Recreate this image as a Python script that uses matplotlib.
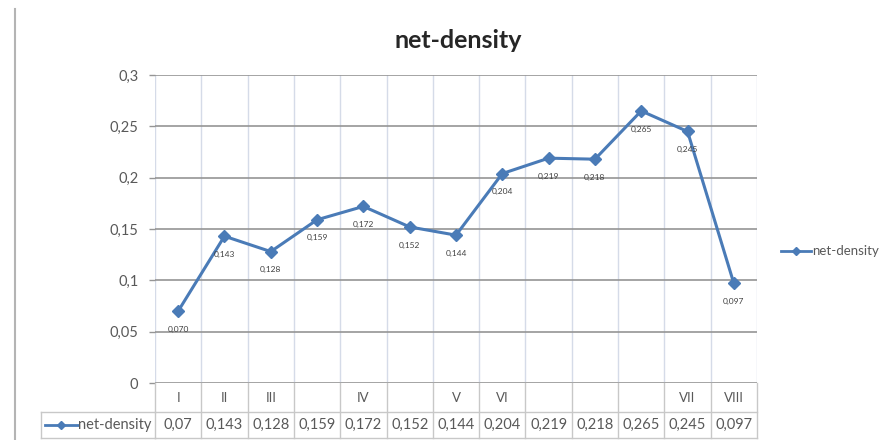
import matplotlib
matplotlib.use("Agg")
import matplotlib.pyplot as plt
from matplotlib.lines import Line2D

plt.rcParams['font.family'] = ['Lato', 'DejaVu Sans']

title = "net-density"
series_name = "net-density"
categories = ["I", "II", "III", "", "IV", "", "V", "VI", "", "", "", "VII", "VIII"]
values = [0.07, 0.143, 0.128, 0.159, 0.172, 0.152, 0.144, 0.204, 0.219, 0.218, 0.265, 0.245, 0.097]
yticks = [0, 0.05, 0.1, 0.15, 0.2, 0.25, 0.3]

LINE_C = "#4A7BB7"
TXT_C = "#595959"
GRID_H = "#959595"
GRID_V = "#d5dbe8"
TABLE_C = "#c8c8c8"

def fmt(v):
    return ("%g" % v).replace(".", ",")

W, H = 884, 440
fig = plt.figure(figsize=(W / 100, H / 100), dpi=100)
L, R, T, B = 155, 757, 75, 383
ax = fig.add_axes([L / W, 1 - B / H, (R - L) / W, (B - T) / H])

n = len(values)
xs = list(range(n))
ax.plot(xs, values, color=LINE_C, lw=2.2, marker="D", markersize=6, zorder=3)
for x, v in zip(xs, values):
    ax.annotate(("%.3f" % v).replace(".", ","), (x, v), xytext=(0, -13), textcoords="offset points",
                ha="center", va="center", fontsize=6, color="#404040", zorder=4)

ax.set_xlim(-0.5, n - 0.5)
ax.set_ylim(0, 0.3)
ax.set_yticks(yticks)
ax.set_yticklabels([fmt(t) for t in yticks], fontsize=10.5, color=TXT_C)
ax.tick_params(axis="y", length=4, width=1, color=GRID_H, pad=8)
ax.set_xticks([])
for s in ["top", "right", "left", "bottom"]:
    ax.spines[s].set_visible(False)
for t in yticks:
    ax.axhline(t, color=GRID_H, lw=1.2, zorder=1)
for i in range(n + 1):
    ax.axvline(i - 0.5, color=GRID_V, lw=1.0, zorder=0)

# data table below axis
trans = ax.get_xaxis_transform()
ph = B - T
def ay(py):
    return (B - py) / ph
row1_mid, row_sep, row2_mid, row_bot = ay(398), ay(412), ay(425), ay(438)
for i in range(n + 1):
    ax.plot([i - 0.5, i - 0.5], [0, row_bot], transform=trans, color=TABLE_C, lw=1.0, clip_on=False)
ax.plot([-0.5, n - 0.5], [row_sep, row_sep], transform=trans, color=TABLE_C, lw=1.0, clip_on=False)
ax.plot([-0.5, n - 0.5], [row_bot, row_bot], transform=trans, color=TABLE_C, lw=1.0, clip_on=False)
for x, c, v in zip(xs, categories, values):
    ax.text(x, row1_mid, c, transform=trans, ha="center", va="center", fontsize=9.5, color=TXT_C)
    ax.text(x, row2_mid, fmt(v), transform=trans, ha="center", va="center", fontsize=10.5, color=TXT_C)

# key cell of table
kx0, kx1 = 41 / W, L / W
ky0, ky1 = 1 - 412 / H, 1 - 438 / H
fig.add_artist(Line2D([kx0, kx1], [ky0, ky0], color=TABLE_C, lw=1.0))
fig.add_artist(Line2D([kx0, kx1], [ky1, ky1], color=TABLE_C, lw=1.0))
fig.add_artist(Line2D([kx0, kx0], [ky0, ky1], color=TABLE_C, lw=1.0))
kym = 1 - 425 / H
fig.add_artist(Line2D([45 / W, 78 / W], [kym, kym], color=LINE_C, lw=2.0))
fig.add_artist(Line2D([61 / W], [kym], color=LINE_C, marker="D", markersize=4, lw=0))
fig.text(78 / W, kym, series_name, ha="left", va="center", fontsize=10.5, color=TXT_C)

# legend at right
lym = 1 - 251 / H
fig.add_artist(Line2D([781 / W, 811 / W], [lym, lym], color=LINE_C, lw=2.0))
fig.add_artist(Line2D([796 / W], [lym], color=LINE_C, marker="D", markersize=4, lw=0))
fig.text(812 / W, lym, series_name, ha="left", va="center", fontsize=9.5, color=TXT_C)

# title
fig.text(458 / W, 1 - 40 / H, title, ha="center", va="center", fontsize=18, fontweight="bold", color="#262626")

# left border line
fig.add_artist(Line2D([15 / W, 15 / W], [0, 1 - 9 / H], color="#b4b4b4", lw=1.5))

fig.savefig("out.png", dpi=100, facecolor="white")
